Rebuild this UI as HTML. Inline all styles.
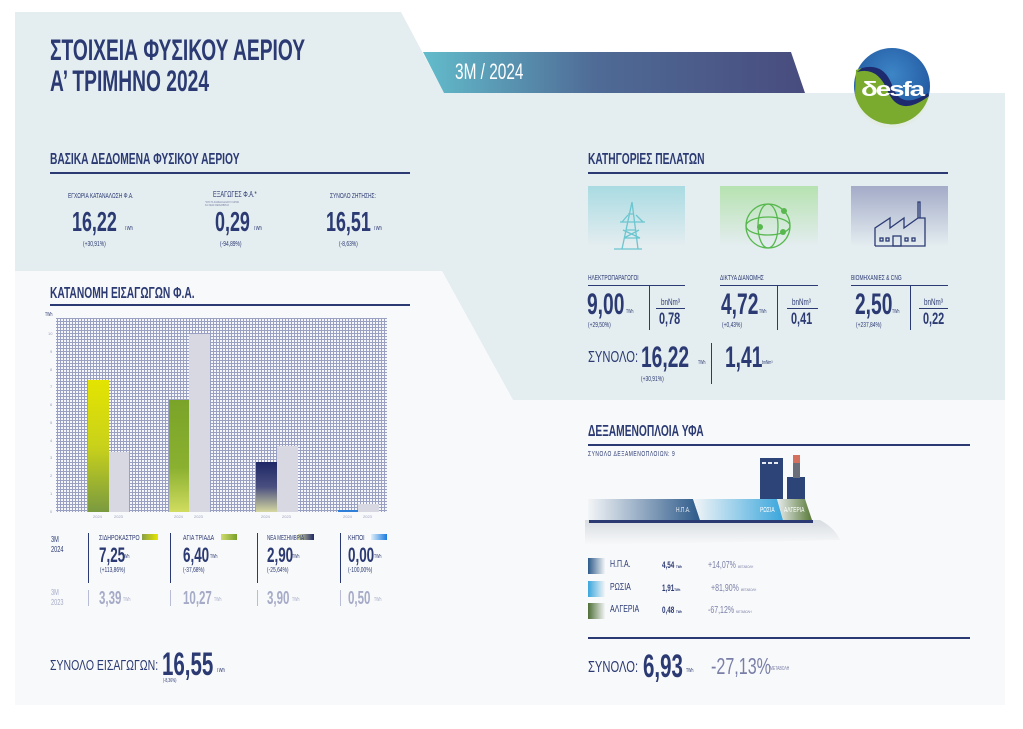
<!DOCTYPE html>
<html><head><meta charset="utf-8">
<style>
*{margin:0;padding:0;box-sizing:border-box}
body{width:1023px;height:729px;background:#fff;position:relative;overflow:hidden;font-family:"Liberation Sans Narrow","Liberation Sans","DejaVu Sans Condensed",sans-serif;color:#2b3a73}
.a{position:absolute;white-space:nowrap;line-height:1;transform:scaleX(.7);transform-origin:0 0}
.b{font-weight:bold}
.n{font-weight:bold;transform:scaleX(.64)}
.hl{position:absolute;height:1.5px;background:#2b3a73}
.vl{position:absolute;width:1.5px;background:#2b3a73}
.g{color:#a6abc8}
.gv{background:#b8bcd4}
</style></head><body>
<svg style="position:absolute;left:0;top:0" width="1023" height="729">
<defs>
<linearGradient id="ban" x1="0" x2="1"><stop offset="0" stop-color="#62bccb"/><stop offset="0.45" stop-color="#4f6b96"/><stop offset="1" stop-color="#484c7e"/></linearGradient>
<linearGradient id="t1" x1="0" y1="0" x2="0" y2="1"><stop offset="0" stop-color="#a9dbe2"/><stop offset="1" stop-color="#e4edf0"/></linearGradient>
<linearGradient id="t2" x1="0" y1="0" x2="0" y2="1"><stop offset="0" stop-color="#b6e2b0"/><stop offset="1" stop-color="#e4edf0"/></linearGradient>
<linearGradient id="t3" x1="0" y1="0" x2="0" y2="1"><stop offset="0" stop-color="#a3abc8"/><stop offset="1" stop-color="#e4edf0"/></linearGradient>
<linearGradient id="sid" x1="0" y1="0" x2="0" y2="1"><stop offset="0" stop-color="#e4e400"/><stop offset="0.5" stop-color="#c9d21a"/><stop offset="1" stop-color="#7a9a40"/></linearGradient>
<linearGradient id="agt" x1="0" y1="0" x2="0" y2="1"><stop offset="0" stop-color="#7aa428"/><stop offset="0.6" stop-color="#8ab030"/><stop offset="1" stop-color="#d0dc60"/></linearGradient>
<linearGradient id="nea" x1="0" y1="0" x2="0" y2="1"><stop offset="0" stop-color="#1e2866"/><stop offset="0.5" stop-color="#4a4f80"/><stop offset="1" stop-color="#d6d8a0"/></linearGradient>
<linearGradient id="usa" x1="0" x2="1"><stop offset="0" stop-color="#f3f5f7"/><stop offset="1" stop-color="#2d5a8a"/></linearGradient>
<linearGradient id="rus" x1="0" x2="1"><stop offset="0" stop-color="#f3f5f7"/><stop offset="1" stop-color="#3aa6dc"/></linearGradient>
<linearGradient id="alg" x1="0" x2="1"><stop offset="0" stop-color="#e8ecef"/><stop offset="1" stop-color="#5a7a38"/></linearGradient>
<linearGradient id="sh" x1="0" y1="0" x2="0" y2="1"><stop offset="0" stop-color="#d8dde2"/><stop offset="1" stop-color="#f8f9fa"/></linearGradient>
<pattern id="grid" width="3" height="3" patternUnits="userSpaceOnUse"><rect width="3" height="3" fill="#9aa0c2"/><rect x="1" y="1" width="2" height="2" fill="#f6f7fa"/></pattern>
<linearGradient id="lg1" x1="0" x2="1"><stop offset="0" stop-color="#2d5a8a"/><stop offset="1" stop-color="#f3f5f7"/></linearGradient>
<linearGradient id="lg2" x1="0" x2="1"><stop offset="0" stop-color="#3aa6dc"/><stop offset="1" stop-color="#f3f5f7"/></linearGradient>
<linearGradient id="lg3" x1="0" x2="1"><stop offset="0" stop-color="#4e6e36"/><stop offset="1" stop-color="#f3f5f7"/></linearGradient>
<radialGradient id="logo" cx="0.5" cy="0.35" r="0.7"><stop offset="0" stop-color="#3d86c6"/><stop offset="1" stop-color="#1d4f9a"/></radialGradient>
<linearGradient id="s1" x1="0" x2="1"><stop offset="0" stop-color="#8aa048"/><stop offset="1" stop-color="#e6e600"/></linearGradient>
<linearGradient id="s2" x1="0" x2="1"><stop offset="0" stop-color="#d2dc70"/><stop offset="1" stop-color="#78a028"/></linearGradient>
<linearGradient id="s3" x1="0" x2="1"><stop offset="0" stop-color="#d6d8a0"/><stop offset="1" stop-color="#1e2866"/></linearGradient>
<linearGradient id="s4" x1="0" x2="1"><stop offset="0" stop-color="#dff0fa"/><stop offset="1" stop-color="#1a7ae0"/></linearGradient>
</defs>
<polygon points="15,12 401,12 444,93 1005,93 1005,400 513,400 442,271 15,271" fill="#e4edf0"/>
<polygon points="15,271 442,271 513,400 1005,400 1005,705 15,705" fill="#f8f9fa"/>
<polygon points="423,52 791,52 805,93 444,93" fill="url(#ban)"/>
<circle cx="892" cy="90" r="38" fill="#e2ecd8" opacity="0.5"/>
<circle cx="892" cy="86" r="38" fill="url(#logo)"/>
<path d="M856,70 Q880,60 890,90 Q900,115 929,95 A38,38 0 0 1 855,95 Z" fill="#7aab2e"/>
<path d="M862,68 Q885,62 893,88 Q902,110 928,93 L929,96 Q900,118 888,92 Q878,66 857,72 Z" fill="#1e2a6e"/>
<text x="861" y="96" font-family="Liberation Sans" font-weight="bold" font-size="20" fill="#fff" letter-spacing="-1.5" textLength="62" lengthAdjust="spacingAndGlyphs">δesfa</text>
<rect x="588" y="186" width="97" height="60" fill="url(#t1)"/>
<rect x="720" y="186" width="98" height="60" fill="url(#t2)"/>
<rect x="851" y="186" width="97" height="60" fill="url(#t3)"/>
<g stroke="#6cc6cf" stroke-width="1.3" fill="none">
<path d="M614,249 L642,249 M622,249 L632,202 L638,249 M626,230 L636,230 M624,238 L640,238 M628,214 L634,214 M620,222 L645,222 M622,222 L628,215 M643,222 L636,215 M623,230 L640,238 M639,230 L624,238"/>
</g>
<g stroke="#58b84f" stroke-width="1.3" fill="none">
<circle cx="768" cy="226" r="22"/><ellipse cx="768" cy="226" rx="10" ry="22"/><ellipse cx="768" cy="226" rx="22" ry="9"/>
</g>
<g fill="#58b84f"><circle cx="784" cy="211" r="3"/><circle cx="760" cy="227" r="3"/><circle cx="783" cy="232" r="3"/></g>
<g stroke="#2b3a73" stroke-width="1.3" fill="none">
<path d="M875,246 L925,246 L925,218 L918,218 L918,202 L920,202 L920,218 M875,246 L875,228 L890,218 L890,228 L904,218 L904,228 L918,218"/>
<rect x="880" y="238" width="3" height="3"/><rect x="886" y="238" width="3" height="3"/><rect x="893" y="236" width="8" height="10"/><rect x="905" y="238" width="3" height="3"/><rect x="912" y="238" width="3" height="3"/>
</g>
<rect x="56" y="318" width="331" height="194" fill="url(#grid)"/>
<rect x="88" y="380" width="21" height="132" fill="url(#sid)"/>
<rect x="109" y="452" width="20" height="60" fill="#d7d8e2"/>
<rect x="169" y="400" width="20" height="112" fill="url(#agt)"/>
<rect x="189" y="334" width="21" height="178" fill="#d7d8e2"/>
<rect x="256" y="462" width="21" height="50" fill="url(#nea)"/>
<rect x="277" y="446" width="21" height="66" fill="#d7d8e2"/>
<rect x="338" y="510" width="20" height="2" fill="#2f7ed8"/>
<rect x="358" y="504" width="21" height="8" fill="#d7d8e2"/>
<g font-size="4" fill="#9aa0c0" font-family="Liberation Sans">
<text x="50" y="513">0</text><text x="50" y="495">1</text><text x="50" y="477">2</text><text x="50" y="459">3</text><text x="50" y="442">4</text><text x="50" y="424">5</text><text x="50" y="406">6</text><text x="50" y="388">7</text><text x="50" y="371">8</text><text x="50" y="353">9</text><text x="48" y="335">10</text>
<text x="93" y="518">2024</text><text x="114" y="518">2023</text><text x="174" y="518">2024</text><text x="194" y="518">2023</text><text x="261" y="518">2024</text><text x="282" y="518">2023</text><text x="343" y="518">2024</text><text x="363" y="518">2023</text>
</g>
<rect x="142" y="534" width="16" height="6" fill="url(#s1)"/>
<rect x="221" y="534" width="16" height="6" fill="url(#s2)"/>
<rect x="298" y="534" width="16" height="6" fill="url(#s3)"/>
<rect x="371" y="534" width="16" height="6" fill="url(#s4)"/>
<path d="M585,520 L820,520 Q835,528 840,540 L585,545 Z" fill="url(#sh)"/>
<polygon points="588,499 693,499 700,520 588,520" fill="url(#usa)"/>
<polygon points="693,499 777,499 783,520 700,520" fill="url(#rus)"/>
<polygon points="777,499 805,499 812,520 783,520" fill="url(#alg)"/>
<rect x="589" y="520" width="224" height="3" fill="#2b3a73"/>
<rect x="760" y="458" width="23" height="41" fill="#2d4478"/>
<rect x="762" y="462" width="4" height="2" fill="#e8ecf2"/><rect x="768" y="462" width="4" height="2" fill="#e8ecf2"/><rect x="774" y="462" width="4" height="2" fill="#e8ecf2"/>
<rect x="787" y="477" width="18" height="22" fill="#2d4478"/>
<rect x="793" y="462" width="7" height="16" fill="#6a6e78"/>
<rect x="793" y="455" width="7" height="8" fill="#d4705e"/>
<rect x="588" y="558" width="17" height="16" fill="url(#lg1)"/>
<rect x="588" y="581" width="17" height="16" fill="url(#lg2)"/>
<rect x="588" y="603" width="17" height="16" fill="url(#lg3)"/>
</svg>

<div class="a n" style="left:50px;top:36px;font-size:30px">ΣΤΟΙΧΕΙΑ ΦΥΣΙΚΟΥ ΑΕΡΙΟΥ</div>
<div class="a n" style="left:50px;top:67px;font-size:30px">Α’ ΤΡΙΜΗΝΟ 2024</div>
<div class="a" style="left:455px;top:61px;font-size:22px;color:#fff">3M / 2024</div>

<div class="a n" style="left:50px;top:152px;font-size:16px">ΒΑΣΙΚΑ ΔΕΔΟΜΕΝΑ ΦΥΣΙΚΟΥ ΑΕΡΙΟΥ</div>
<div class="hl" style="left:50px;top:172px;width:360px"></div>
<div class="a" style="left:68px;top:193px;font-size:7px">ΕΓΧΩΡΙΑ ΚΑΤΑΝΑΛΩΣΗ Φ.Α.</div>
<div class="a n" style="left:72px;top:208px;font-size:28px">16,22</div><div class="a" style="left:124px;top:226px;font-size:6px">TWh</div>
<div class="a" style="left:83px;top:241px;font-size:7px">(+30,91%)</div>
<div class="a" style="left:213px;top:191px;font-size:8px">ΕΞΑΓΩΓΕΣ Φ.Α.*</div>
<div class="a" style="left:205px;top:201px;font-size:3px;color:#7b82a8">*ΑΠΟ ΤΑ ΣΗΜΕΙΑ ΕΞΟΔΟΥ ΚΗΠΩΝ<br>ΚΑΙ ΝΕΑΣ ΜΕΣΗΜΒΡΙΑΣ</div>
<div class="a n" style="left:215px;top:208px;font-size:28px">0,29</div><div class="a" style="left:253px;top:226px;font-size:6px">TWh</div>
<div class="a" style="left:220px;top:241px;font-size:7px">(-94,89%)</div>
<div class="a" style="left:330px;top:193px;font-size:7px">ΣΥΝΟΛΟ ΖΗΤΗΣΗΣ:</div>
<div class="a n" style="left:326px;top:208px;font-size:28px">16,51</div><div class="a" style="left:373px;top:226px;font-size:6px">TWh</div>
<div class="a" style="left:339px;top:241px;font-size:7px">(-8,63%)</div>

<div class="a n" style="left:588px;top:152px;font-size:16px">ΚΑΤΗΓΟΡΙΕΣ ΠΕΛΑΤΩΝ</div>
<div class="hl" style="left:588px;top:172px;width:360px"></div>
<div class="a" style="left:588px;top:275px;font-size:7px">ΗΛΕΚΤΡΟΠΑΡΑΓΩΓΟΙ</div>
<div class="a" style="left:720px;top:275px;font-size:7px">ΔΙΚΤΥΑ ΔΙΑΝΟΜΗΣ</div>
<div class="a" style="left:851px;top:275px;font-size:7px">ΒΙΟΜΗΧΑΝΙΕΣ &amp; CNG</div>
<div class="hl" style="left:588px;top:285px;width:97px;height:1px"></div>
<div class="hl" style="left:720px;top:285px;width:98px;height:1px"></div>
<div class="hl" style="left:851px;top:285px;width:97px;height:1px"></div>
<div class="vl" style="left:649px;top:286px;height:44px;width:1px"></div>
<div class="vl" style="left:777px;top:286px;height:44px;width:1px"></div>
<div class="vl" style="left:910px;top:286px;height:44px;width:1px"></div>
<div class="a n" style="left:587px;top:290px;font-size:30px">9,00</div><div class="a" style="left:626px;top:310px;font-size:5px">TWh</div>
<div class="a" style="left:588px;top:322px;font-size:7px">(+29,50%)</div>
<div class="a n" style="left:721px;top:290px;font-size:30px">4,72</div><div class="a" style="left:759px;top:310px;font-size:5px">TWh</div>
<div class="a" style="left:722px;top:322px;font-size:7px">(+0,43%)</div>
<div class="a n" style="left:855px;top:290px;font-size:30px">2,50</div><div class="a" style="left:892px;top:310px;font-size:5px">TWh</div>
<div class="a" style="left:856px;top:322px;font-size:7px">(+237,84%)</div>
<div class="a" style="left:661px;top:298px;font-size:9px">bnNm³</div><div class="hl" style="left:656px;top:308px;width:29px;height:1px"></div><div class="a n" style="left:659px;top:310px;font-size:17px">0,78</div>
<div class="a" style="left:792px;top:298px;font-size:9px">bnNm³</div><div class="hl" style="left:787px;top:308px;width:31px;height:1px"></div><div class="a n" style="left:791px;top:310px;font-size:17px">0,41</div>
<div class="a" style="left:924px;top:298px;font-size:9px">bnNm³</div><div class="hl" style="left:919px;top:308px;width:29px;height:1px"></div><div class="a n" style="left:923px;top:310px;font-size:17px">0,22</div>
<div class="a" style="left:588px;top:350px;font-size:16px">ΣΥΝΟΛΟ:</div>
<div class="a n" style="left:641px;top:343px;font-size:30px">16,22</div><div class="a" style="left:698px;top:361px;font-size:5px">TWh</div>
<div class="a" style="left:641px;top:376px;font-size:7px">(+30,91%)</div>
<div class="vl" style="left:711px;top:343px;height:41px;width:1px"></div>
<div class="a n" style="left:725px;top:343px;font-size:30px">1,41</div><div class="a" style="left:762px;top:361px;font-size:5px">bnNm³</div>

<div class="a n" style="left:50px;top:286px;font-size:16px">ΚΑΤΑΝΟΜΗ ΕΙΣΑΓΩΓΩΝ Φ.Α.</div>
<div class="hl" style="left:50px;top:304px;width:360px"></div>
<div class="a" style="left:45px;top:313px;font-size:5px">TWh</div>

<div class="a" style="left:51px;top:535px;font-size:8px;line-height:1.3">3M<br>2024</div>
<div class="vl" style="left:88px;top:533px;height:50px;width:1px"></div>
<div class="vl" style="left:170px;top:533px;height:50px;width:1px"></div>
<div class="vl" style="left:257px;top:533px;height:50px;width:1px"></div>
<div class="vl" style="left:340px;top:533px;height:50px;width:1px"></div>
<div class="a" style="left:99px;top:534px;font-size:7.5px">ΣΙΔΗΡΟΚΑΣΤΡΟ</div>
<div class="a" style="left:183px;top:534px;font-size:7.5px">ΑΓΙΑ ΤΡΙΑΔΑ</div>
<div class="a" style="left:267px;top:534px;font-size:7.5px;transform:scaleX(.6)">ΝΕΑ ΜΕΣΗΜΒΡΙΑ</div>
<div class="a" style="left:348px;top:534px;font-size:7.5px">ΚΗΠΟΙ</div>
<div class="a n" style="left:99px;top:545px;font-size:21px">7,25</div><div class="a" style="left:122px;top:555px;font-size:5px">TWh</div>
<div class="a n" style="left:183px;top:545px;font-size:21px">6,40</div><div class="a" style="left:210px;top:555px;font-size:5px">TWh</div>
<div class="a n" style="left:267px;top:545px;font-size:21px">2,90</div><div class="a" style="left:292px;top:555px;font-size:5px">TWh</div>
<div class="a n" style="left:348px;top:545px;font-size:21px">0,00</div><div class="a" style="left:374px;top:555px;font-size:5px">TWh</div>
<div class="a" style="left:100px;top:567px;font-size:7px">(+113,86%)</div>
<div class="a" style="left:183px;top:567px;font-size:7px">(-37,68%)</div>
<div class="a" style="left:267px;top:567px;font-size:7px">(-25,64%)</div>
<div class="a" style="left:348px;top:567px;font-size:7px">(-100,00%)</div>
<div class="a g" style="left:51px;top:588px;font-size:8px;line-height:1.3">3M<br>2023</div>
<div class="vl gv" style="left:88px;top:590px;height:16px;width:1px"></div>
<div class="vl gv" style="left:170px;top:590px;height:16px;width:1px"></div>
<div class="vl gv" style="left:257px;top:590px;height:16px;width:1px"></div>
<div class="vl gv" style="left:340px;top:590px;height:16px;width:1px"></div>
<div class="a g n" style="left:99px;top:589px;font-size:18px">3,39</div><div class="a g" style="left:123px;top:598px;font-size:5px">TWh</div>
<div class="a g n" style="left:183px;top:589px;font-size:18px">10,27</div><div class="a g" style="left:214px;top:598px;font-size:5px">TWh</div>
<div class="a g n" style="left:267px;top:589px;font-size:18px">3,90</div><div class="a g" style="left:292px;top:598px;font-size:5px">TWh</div>
<div class="a g n" style="left:348px;top:589px;font-size:18px">0,50</div><div class="a g" style="left:374px;top:598px;font-size:5px">TWh</div>

<div class="a" style="left:50px;top:658px;font-size:15px">ΣΥΝΟΛΟ ΕΙΣΑΓΩΓΩΝ:</div>
<div class="a n" style="left:162px;top:648px;font-size:32px">16,55</div><div class="a" style="left:216px;top:668px;font-size:6px">TWh</div>
<div class="a" style="left:163px;top:679px;font-size:5px">(-8,36%)</div>

<div class="a n" style="left:588px;top:424px;font-size:16px">ΔΕΞΑΜΕΝΟΠΛΟΙΑ ΥΦΑ</div>
<div class="hl" style="left:588px;top:444px;width:382px"></div>
<div class="a" style="left:588px;top:451px;font-size:7px;letter-spacing:0.8px">ΣΥΝΟΛΟ ΔΕΞΑΜΕΝΟΠΛΟΙΩΝ: 9</div>
<div class="a" style="left:676px;top:507px;font-size:7px;color:#e8edf4">Η.Π.Α.</div>
<div class="a" style="left:760px;top:507px;font-size:7px;color:#fff">ΡΩΣΙΑ</div>
<div class="a" style="left:784px;top:507px;font-size:7px;color:#fff">ΑΛΓΕΡΙΑ</div>
<div class="a" style="left:610px;top:560px;font-size:10px">Η.Π.Α.</div>
<div class="a" style="left:610px;top:583px;font-size:10px">ΡΩΣΙΑ</div>
<div class="a" style="left:610px;top:605px;font-size:10px">ΑΛΓΕΡΙΑ</div>
<div class="a b" style="left:662px;top:561px;font-size:9px">4,54 <span style="font-size:4px">TWh</span></div>
<div class="a b" style="left:662px;top:584px;font-size:9px">1,91<span style="font-size:4px">TWh</span></div>
<div class="a b" style="left:662px;top:606px;font-size:9px">0,48 <span style="font-size:4px">TWh</span></div>
<div class="a" style="left:708px;top:561px;font-size:10px;color:#7a7fa8">+14,07% <span style="font-size:4px">ΜΕΤΑΒΟΛΗ</span></div>
<div class="a" style="left:711px;top:584px;font-size:10px;color:#7a7fa8">+81,90% <span style="font-size:4px">ΜΕΤΑΒΟΛΗ</span></div>
<div class="a" style="left:708px;top:606px;font-size:10px;color:#7a7fa8">-67,12% <span style="font-size:4px">ΜΕΤΑΒΟΛΗ</span></div>
<div class="hl" style="left:588px;top:637px;width:382px"></div>
<div class="a" style="left:588px;top:660px;font-size:16px">ΣΥΝΟΛΟ:</div>
<div class="a n" style="left:643px;top:650px;font-size:32px">6,93</div><div class="a" style="left:686px;top:669px;font-size:5px">TWh</div>
<div class="a" style="left:711px;top:655px;font-size:23px;color:#7a7fa8">-27,13%</div><div class="a" style="left:770px;top:667px;font-size:5px;color:#7a7fa8">ΜΕΤΑΒΟΛΗ</div>
</body></html>
